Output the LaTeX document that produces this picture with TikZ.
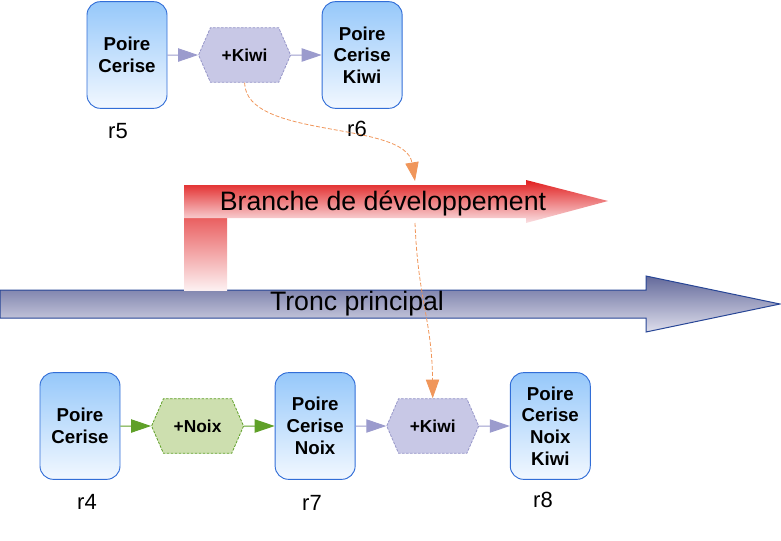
\documentclass[tikz,border=0pt]{standalone}
\usepackage{fontspec}
\setmainfont{Liberation Sans}
\usetikzlibrary{arrows.meta,positioning,shapes.symbols}
\definecolor{revTop}{RGB}{150,200,250}
\definecolor{revBot}{RGB}{242,248,255}
\definecolor{revLine}{RGB}{50,110,215}
\definecolor{kiwiFill}{RGB}{200,200,230}
\definecolor{kiwiLine}{RGB}{150,150,200}
\definecolor{lavLine}{RGB}{155,155,205}
\definecolor{noixFill}{RGB}{205,223,175}
\definecolor{noixLine}{RGB}{95,160,40}
\definecolor{mergeOrange}{RGB}{240,150,90}
\definecolor{troncTop}{RGB}{100,106,155}
\definecolor{troncBot}{RGB}{222,222,236}
\definecolor{troncLine}{RGB}{40,70,150}
\definecolor{brRed}{RGB}{225,30,30}
\definecolor{brPale}{RGB}{250,225,228}
\tikzset{
  revbox/.style={
    rectangle, rounded corners=10pt, draw=revLine, line width=0.7pt,
    top color=revTop, bottom color=revBot, align=center,
    minimum width=60pt, minimum height=80pt,
    font=\fontsize{14}{16.3}\selectfont\bfseries},
  patchhex/.style={
    signal, signal to=east and west, signal pointer angle=133,
    line width=0.6pt, dash pattern=on 2pt off 1pt,
    minimum width=69pt, minimum height=41pt,
    font=\fontsize{13}{15}\selectfont\bfseries},
  kiwihex/.style={patchhex, fill=kiwiFill, draw=kiwiLine},
  noixhex/.style={patchhex, fill=noixFill, draw=noixLine},
  revlabel/.style={font=\fontsize{16.5}{18}\selectfont},
  bigtext/.style={font=\fontsize{20}{24}\selectfont},
  lavarrow/.style={-{Triangle[length=15pt,width=10pt]}, line width=0.75pt, draw=lavLine},
  greenarrow/.style={-{Triangle[length=15pt,width=10pt]}, line width=0.75pt, draw=noixLine},
  mergearrow/.style={-{Triangle[length=14pt,width=10pt]}, line width=0.6pt,
    dash pattern=on 3pt off 1.5pt, draw=mergeOrange}
}
\begin{document}
\begin{tikzpicture}[x=0.75pt,y=-0.75pt,node distance=23pt]
    \useasboundingbox (0,0) rectangle (781,540);

    % ---- trunk and branch arrows -------------------------------
    \shade[top color=troncTop, bottom color=troncBot, draw=troncLine, line width=0.75pt]
      (0,290) -- (646,290) -- (646,276) -- (780,304) -- (646,332) -- (646,318) -- (0,318) -- cycle;
    \shade[top color=brRed, bottom color=brPale!50!white] (184,185) rectangle (227,290);
    \shade[top color=brRed, bottom color=brPale]
      (184,185) -- (526,185) -- (526,180) -- (608,201) -- (526,223) -- (526,218) -- (184,218) -- cycle;

    \node[bigtext] (branche) at (383,203) {Branche de développement};
    \node[bigtext] (tronc)   at (357,304) {Tronc principal};

    % ---- branch revisions --------------------------------------
    \node[revbox] (r5box) at (127,55) {Poire\\Cerise};
    \node[kiwihex, right=of r5box] (kiwiA) {+Kiwi};
    \node[revbox,  right=of kiwiA] (r6box) {Poire\\Cerise\\Kiwi};

    \node[revlabel] (r5) at (118,131) {r5};
    \node[revlabel] (r6) at (357,129) {r6};

    \draw[lavarrow] (r5box) -- (kiwiA);
    \draw[lavarrow] (kiwiA) -- (r6box);

    % ---- trunk revisions ---------------------------------------
    \node[revbox] (r4box) at (80,426) {Poire\\Cerise};
    \node[noixhex, right=of r4box] (noix)  {+Noix};
    \node[revbox,  right=of noix]  (r7box) {Poire\\Cerise\\Noix};
    \node[kiwihex, right=of r7box] (kiwiB) {+Kiwi};
    \node[revbox,  right=of kiwiB] (r8box) {Poire\\Cerise\\Noix\\Kiwi};

    \node[revlabel] (r4) at (87,502)  {r4};
    \node[revlabel] (r7) at (312,503) {r7};
    \node[revlabel] (r8) at (543,500) {r8};

    \draw[greenarrow] (r4box) -- (noix);
    \draw[greenarrow] (noix)  -- (r7box);
    \draw[lavarrow]   (r7box) -- (kiwiB);
    \draw[lavarrow]   (kiwiB) -- (r8box);

    % ---- merge of the kiwi patch -------------------------------
    \coordinate (mergeIn)  at (415,181);
    \coordinate (mergeOut) at (415,223);
    \draw[mergearrow] (kiwiA.south) .. controls (246,140) and (405,120) .. (mergeIn);
    \draw[mergearrow] (mergeOut) .. controls (418,300) and (432,320) .. (kiwiB.north);

\end{tikzpicture}
\end{document}
